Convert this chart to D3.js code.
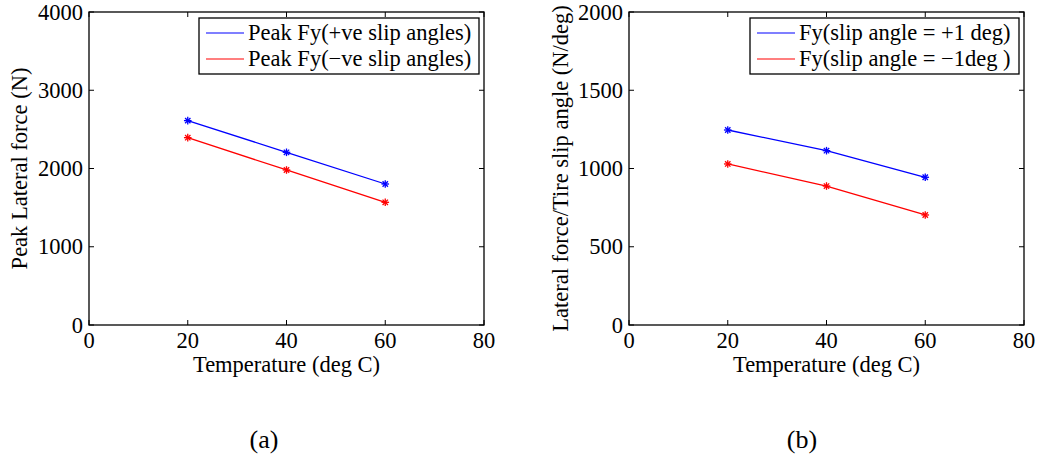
<!DOCTYPE html>
<html>
<head>
<meta charset="utf-8">
<script src="https://cdn.jsdelivr.net/npm/d3@7"></script>
<style>
  body { margin: 0; background: #fff; }
  text { font-family: "Liberation Serif", "DejaVu Serif", serif; fill: #000; }
</style>
</head>
<body>
<svg id="chart" width="1039" height="459"></svg>
<script>
// data
const temps = [20, 40, 60];
const peakPos = [2612, 2207, 1802];
const peakNeg = [2394, 1981, 1568];
const stiffPos = [1246, 1114, 944];
const stiffNeg = [1029, 888, 703];

const xTicks = [0, 20, 40, 60, 80];
const yTicksA = [0, 1000, 2000, 3000, 4000];
const yTicksB = [0, 500, 1000, 1500, 2000];

const svg = d3.select("#chart");
const fs = "22.5px";

function drawPanel(opt) {
  const g = svg.append("g");
  const x = d3.scaleLinear().domain([0, 80]).range([opt.left, opt.left + 395]);
  const y = d3.scaleLinear().domain(opt.yDomain).range([325, 12]);

  // frame
  g.append("rect")
    .attr("x", x(0)).attr("y", y(opt.yDomain[1]))
    .attr("width", x(80) - x(0)).attr("height", y(opt.yDomain[0]) - y(opt.yDomain[1]))
    .attr("fill", "none").attr("stroke", "#000").attr("stroke-width", 1.3);

  // inward ticks on all sides
  const tk = 5;
  xTicks.forEach(t => {
    g.append("line").attr("x1", x(t)).attr("x2", x(t)).attr("y1", 325).attr("y2", 325 - tk)
      .attr("stroke", "#000").attr("stroke-width", 1);
    g.append("line").attr("x1", x(t)).attr("x2", x(t)).attr("y1", 12).attr("y2", 12 + tk)
      .attr("stroke", "#000").attr("stroke-width", 1);
    g.append("text").attr("x", x(t)).attr("y", 348).attr("text-anchor", "middle")
      .style("font-size", fs).text(t);
  });
  opt.yTicks.forEach(t => {
    g.append("line").attr("x1", x(0)).attr("x2", x(0) + tk).attr("y1", y(t)).attr("y2", y(t))
      .attr("stroke", "#000").attr("stroke-width", 1);
    g.append("line").attr("x1", x(80)).attr("x2", x(80) - tk).attr("y1", y(t)).attr("y2", y(t))
      .attr("stroke", "#000").attr("stroke-width", 1);
    g.append("text").attr("x", x(0) - 6).attr("y", y(t) + 7.5).attr("text-anchor", "end")
      .style("font-size", fs).text(t);
  });

  // axis labels
  g.append("text").attr("x", (x(0) + x(80)) / 2).attr("y", 372).attr("text-anchor", "middle")
    .style("font-size", fs).text("Temperature (deg C)");
  g.append("text")
    .attr("transform", `translate(${opt.yLabelX},${(y(opt.yDomain[0]) + y(opt.yDomain[1])) / 2}) rotate(-90)`)
    .attr("text-anchor", "middle").style("font-size", fs).text(opt.yLabel);

  // series
  const line = d3.line().x((d, i) => x(temps[i])).y(d => y(d));
  opt.series.forEach(s => {
    g.append("path").datum(s.values).attr("d", line)
      .attr("fill", "none").attr("stroke", s.color).attr("stroke-width", 1.3);
    s.values.forEach((v, i) => {
      const cx = x(temps[i]), cy = y(v), r = 3.8;
      [0, 45, 90, 135].forEach(a => {
        const rad = a * Math.PI / 180;
        g.append("line")
          .attr("x1", cx - r * Math.cos(rad)).attr("y1", cy - r * Math.sin(rad))
          .attr("x2", cx + r * Math.cos(rad)).attr("y2", cy + r * Math.sin(rad))
          .attr("stroke", s.color).attr("stroke-width", 1.3);
      });
    });
  });

  // legend
  const lg = g.append("g");
  lg.append("rect").attr("x", opt.legend.x).attr("y", 18)
    .attr("width", opt.legend.w).attr("height", 56)
    .attr("fill", "#fff").attr("stroke", "#000").attr("stroke-width", 1.3);
  opt.series.forEach((s, i) => {
    const ly = 33 + i * 26;
    lg.append("line").attr("x1", opt.legend.x + 7).attr("x2", opt.legend.x + 45)
      .attr("y1", ly).attr("y2", ly).attr("stroke", s.color).attr("stroke-width", 1.2);
    lg.append("text").attr("x", opt.legend.x + 49).attr("y", ly + 7)
      .style("font-size", fs).text(s.name);
  });

  // caption
  g.append("text").attr("x", opt.captionX).attr("y", 448).attr("text-anchor", "middle")
    .style("font-size", "26px").text(opt.caption);
}

drawPanel({
  left: 89, yDomain: [0, 4000], yTicks: yTicksA, yLabel: "Peak Lateral force (N)", yLabelX: 27,
  series: [
    { name: "Peak Fy(+ve slip angles)", values: peakPos, color: "#0000ff" },
    { name: "Peak Fy(\u2212ve slip angles)", values: peakNeg, color: "#ff0000" }
  ],
  legend: { x: 199, w: 280 }, caption: "(a)", captionX: 264
});

drawPanel({
  left: 629, yDomain: [0, 2000], yTicks: yTicksB, yLabel: "Lateral force/Tire slip angle (N/deg)", yLabelX: 568,
  series: [
    { name: "Fy(slip angle = +1 deg)", values: stiffPos, color: "#0000ff" },
    { name: "Fy(slip angle = \u22121deg )", values: stiffNeg, color: "#ff0000" }
  ],
  legend: { x: 750, w: 269 }, caption: "(b)", captionX: 802
});
</script>
</body>
</html>
